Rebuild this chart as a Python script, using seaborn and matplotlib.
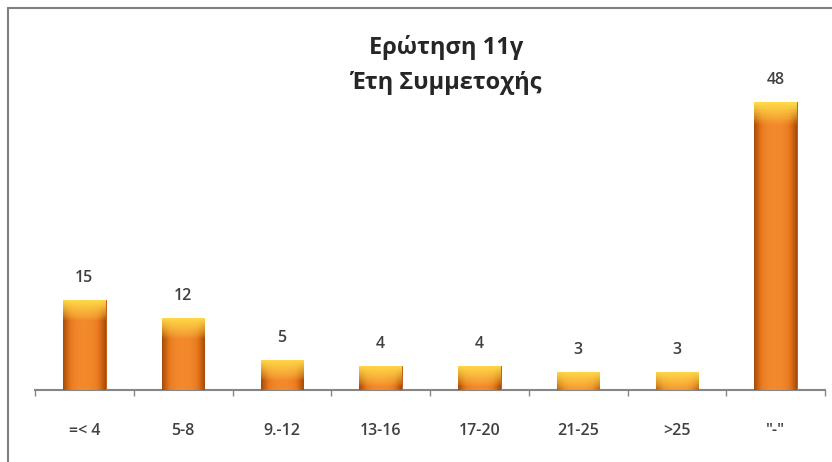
import numpy as np
import pandas as pd
import seaborn as sns
import matplotlib.pyplot as plt
from matplotlib.lines import Line2D
from matplotlib.colors import LinearSegmentedColormap

# data
categories = ['=< 4', '5-8', '9.-12', '13-16', '17-20', '21-25', '>25', '"-"']
counts = [15, 12, 5, 4, 4, 3, 3, 48]

df = pd.DataFrame({'years': categories, 'count': counts})

sns.set_style('white')
plt.rcParams['font.family'] = ['Open Sans', 'DejaVu Sans']

fig = plt.figure(figsize=(8.32, 4.62), dpi=100)
ax = fig.add_axes([35/832, 72/462, 790/832, 370/462])

sns.barplot(data=df, x='years', y='count', color='#E8761E', width=0.43,
            saturation=1, ax=ax)

ax.set_ylim(0, 370/6)
ax.set_xlim(-0.5, len(categories) - 0.5)

# orange gradient on each bar with a yellow cap
side = np.abs(np.linspace(-1, 1, 60))
cmap_h = LinearSegmentedColormap.from_list('o', ['#F28A2C', '#E9791F', '#C4600F', '#A84A0A'])
for p in ax.patches:
    x0, y0 = p.get_x(), p.get_y()
    w, h = p.get_width(), p.get_height()
    rows = 80
    img = np.zeros((rows, 60, 3))
    base = cmap_h(side ** 2.5)[:, :3]
    cap_px = 20  # pixel height of the yellow cap
    bar_px = h * 6
    for r in range(rows):
        depth = (r / rows) * bar_px
        t = max(0.0, 1 - depth / cap_px) ** 0.8
        yel = np.array([1.0, 0.84, 0.28])
        img[r] = base * (1 - t) + yel * t
    im = ax.imshow(img, extent=[x0, x0 + w, y0, y0 + h], aspect='auto',
                   origin='upper', zorder=3)
    im.set_clip_path(p)
    p.set_edgecolor('#B4530E')
    p.set_linewidth(0.6)

for i, v in enumerate(counts):
    ax.annotate(str(v), (i, v), xytext=(0, 10), textcoords='offset points',
                ha='center', va='bottom', fontsize=11.5, color='#404040',
                fontweight='semibold')

ax.set_xlabel('')
ax.set_ylabel('')
ax.set_yticks([])
ax.set_xticks(range(len(categories)))
ax.set_xticklabels(categories, fontsize=11.5, color='#404040',
                   fontweight='semibold')
ax.set_xticks(np.arange(-0.5, len(categories)), minor=True)
ax.tick_params(axis='x', which='major', length=0, pad=24)
ax.tick_params(axis='x', which='minor', length=4, color='#868686', width=1,
               bottom=True)
for s in ['top', 'right', 'left']:
    ax.spines[s].set_visible(False)
ax.spines['bottom'].set_color('#868686')
ax.spines['bottom'].set_linewidth(1.5)

fig.text(446/832, 1 - 65/462, 'Ερώτηση 11γ\nΈτη Συμμετοχής', ha='center',
         va='center', fontsize=17, fontweight='bold', color='#262626',
         linespacing=1.6)

# chart frame (top and left edge visible)
fig.add_artist(Line2D([8/832, 8/832], [0, 1 - 8/462], transform=fig.transFigure,
                      color='#808080', lw=1.5))
fig.add_artist(Line2D([8/832, 1], [1 - 8/462, 1 - 8/462], transform=fig.transFigure,
                      color='#808080', lw=1.5))

fig.savefig('out.png', dpi=100)
